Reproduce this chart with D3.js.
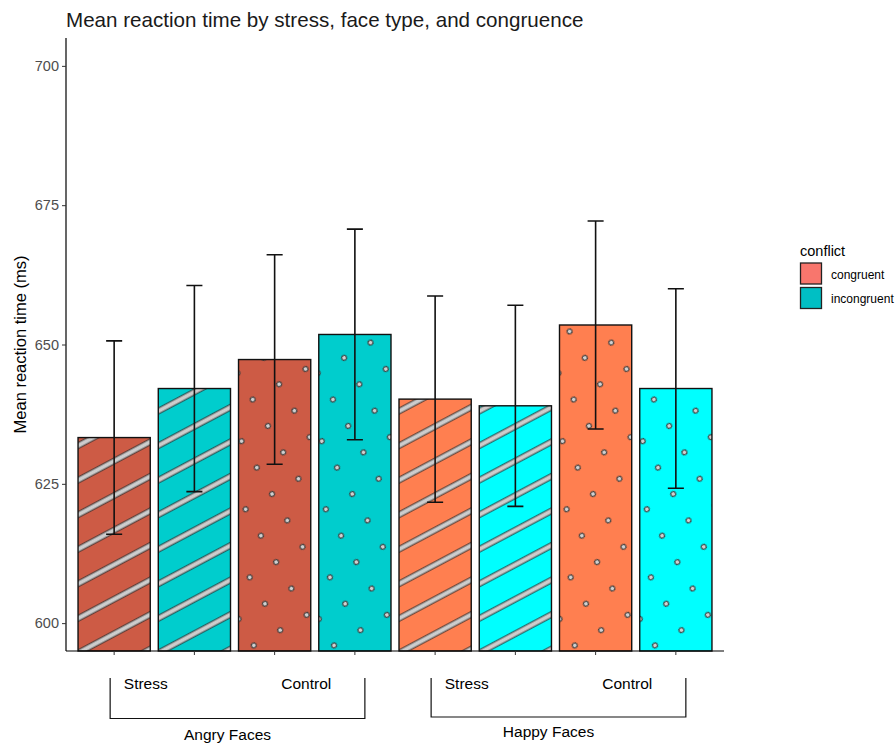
<!DOCTYPE html>
<html>
<head>
<meta charset="utf-8">
<script src="https://cdn.jsdelivr.net/npm/d3@7"></script>
<style>
  html, body { margin: 0; padding: 0; background: #fff; }
  svg { display: block; font-family: "Liberation Sans", Arial, sans-serif; }
</style>
</head>
<body>
<svg id="chart" width="896" height="745"></svg>
<script>
// Reaction-time means and error half-widths, one bar per face × stress × conflict cell
const faceTypes = ["Angry Faces", "Happy Faces"];
const stressConditions = ["Stress", "Control"];
const conflictLevels = ["congruent", "incongruent"];
const meanRT = [633.3, 642.1, 647.3, 651.8, 640.2, 639.0, 653.5, 642.1];
const errorHalf = [17.35, 18.5, 18.8, 18.9, 18.5, 18.05, 18.65, 17.9];
const barColors = ["#CD5B45", "#00CDCD", "#CD5B45", "#00CDCD", "#FF7F50", "#00FFFF", "#FF7F50", "#00FFFF"];
const legendColors = ["#F8766D", "#00BFC4"];
const yTicks = [600, 625, 650, 675, 700];

// Build the eight cells in drawing order
const cells = [];
faceTypes.forEach((face, fi) => {
  stressConditions.forEach((stress, si) => {
    conflictLevels.forEach((conflict, ci) => {
      const i = cells.length;
      cells.push({
        id: `${face}|${stress}|${conflict}`,
        face, stress, conflict,
        pattern: stress === "Stress" ? "stripe" : "circle",
        mean: meanRT[i],
        lo: meanRT[i] - errorHalf[i],
        hi: meanRT[i] + errorHalf[i],
        fill: barColors[i]
      });
    });
  });
});

const svg = d3.select("#chart");
const panel = { left: 66, right: 724, top: 38, bottom: 651 };

const x = d3.scaleBand()
  .domain(cells.map(d => d.id))
  .range([panel.left, panel.right])
  .paddingInner(0.1)
  .paddingOuter(0.15);

const y = d3.scaleLinear()
  .domain([595, 705])
  .range([panel.bottom, panel.top]);

// Fill patterns: diagonal stripes for Stress, dot grid for Control
const spacing = 30.5;
const defs = svg.append("defs");
const pats = defs.selectAll("pattern")
  .data(cells)
  .join("pattern")
  .attr("id", (d, i) => `pat${i}`)
  .attr("patternUnits", "userSpaceOnUse")
  .attr("width", spacing)
  .attr("height", spacing)
  .attr("patternTransform", d => `translate(${x(d.id) + x.bandwidth() / 2},${panel.bottom}) rotate(${d.pattern === "stripe" ? -28 : -30})`);

const stripeW = 5.2;
pats.filter(d => d.pattern === "stripe").each(function () {
  const p = d3.select(this);
  const y0 = (spacing - stripeW) / 2;
  p.append("rect")
    .attr("x", 0).attr("y", y0)
    .attr("width", spacing).attr("height", stripeW)
    .attr("fill", "#cccccc");
  [y0, y0 + stripeW].forEach(yy => {
    p.append("line")
      .attr("x1", 0).attr("x2", spacing)
      .attr("y1", yy).attr("y2", yy)
      .attr("stroke", "#222").attr("stroke-width", 0.9);
  });
});
pats.filter(d => d.pattern === "circle").append("circle")
  .attr("cx", spacing / 2).attr("cy", spacing / 2)
  .attr("r", 2.5)
  .attr("fill", "#d0d0d0")
  .attr("stroke", "#333")
  .attr("stroke-width", 1);

// Title
svg.append("text")
  .attr("x", 66).attr("y", 26.5)
  .attr("font-size", 20.6)
  .attr("fill", "#1a1a1a")
  .text("Mean reaction time by stress, face type, and congruence");

// Bars
const bars = svg.append("g").attr("class", "bars");
bars.selectAll("rect.base")
  .data(cells)
  .join("rect")
  .attr("class", "base")
  .attr("x", d => x(d.id))
  .attr("y", d => y(d.mean))
  .attr("width", x.bandwidth())
  .attr("height", d => y(595) - y(d.mean))
  .attr("fill", d => d.fill);
bars.selectAll("rect.pat")
  .data(cells)
  .join("rect")
  .attr("class", "pat")
  .attr("x", d => x(d.id))
  .attr("y", d => y(d.mean))
  .attr("width", x.bandwidth())
  .attr("height", d => y(595) - y(d.mean))
  .attr("fill", (d, i) => `url(#pat${i})`);
bars.selectAll("rect.outline")
  .data(cells)
  .join("rect")
  .attr("class", "outline")
  .attr("x", d => x(d.id))
  .attr("y", d => y(d.mean))
  .attr("width", x.bandwidth())
  .attr("height", d => y(595) - y(d.mean))
  .attr("fill", "none")
  .attr("stroke", "#111")
  .attr("stroke-width", 1.4);

// Error bars
const capW = x.step() * 0.2;
const err = svg.append("g").attr("class", "errors")
  .attr("stroke", "#111").attr("stroke-width", 1.6).attr("fill", "none");
err.selectAll("path")
  .data(cells)
  .join("path")
  .attr("d", d => {
    const cx = x(d.id) + x.bandwidth() / 2;
    return `M${cx - capW / 2},${y(d.hi)}H${cx + capW / 2}` +
           `M${cx},${y(d.hi)}V${y(d.lo)}` +
           `M${cx - capW / 2},${y(d.lo)}H${cx + capW / 2}`;
  });

// Axes
const yAxis = svg.append("g")
  .attr("transform", `translate(${panel.left},0)`)
  .call(d3.axisLeft(y).tickValues(yTicks).tickSize(4).tickPadding(3).tickFormat(d3.format("d")));
yAxis.select(".domain").attr("d", `M0,${panel.top}V${panel.bottom}`).attr("stroke", "#000").attr("stroke-width", 1.2);
yAxis.selectAll(".tick line").attr("stroke", "#333");
yAxis.selectAll(".tick text")
  .attr("font-size", 14.5)
  .attr("font-family", "\"Liberation Sans\", Arial, sans-serif")
  .attr("fill", "#4d4d4d");

const xAxis = svg.append("g")
  .attr("transform", `translate(0,${panel.bottom})`)
  .call(d3.axisBottom(x).tickSize(4).tickFormat(""));
xAxis.select(".domain").attr("d", `M${panel.left},0H${panel.right}`).attr("stroke", "#000").attr("stroke-width", 1.2);
xAxis.selectAll(".tick line").attr("stroke", "#333");

// Y axis title
svg.append("text")
  .attr("transform", `translate(26,${(panel.top + panel.bottom) / 2}) rotate(-90)`)
  .attr("text-anchor", "middle")
  .attr("font-size", 16.5)
  .attr("fill", "#000")
  .text("Mean reaction time (ms)");

// Grouping annotations beneath the axis
const ann = svg.append("g").attr("class", "groups");
faceTypes.forEach((face, fi) => {
  const group = cells.filter(d => d.face === face);
  const first = x(group[0].id) + x.bandwidth() / 2;
  const last = x(group[group.length - 1].id) + x.bandwidth() / 2;
  const left = first - 4;
  const right = last + 10;
  const bottomY = 718.5 - fi * 1.5;
  ann.append("path")
    .attr("d", `M${left},678V${bottomY}H${right}V678`)
    .attr("fill", "none")
    .attr("stroke", "#111")
    .attr("stroke-width", 1.2);
  stressConditions.forEach(stress => {
    const pair = group.filter(d => d.stress === stress);
    const mid = (x(pair[0].id) + x(pair[1].id) + x.bandwidth()) / 2;
    ann.append("text")
      .attr("x", mid - 8.5)
      .attr("y", 689)
      .attr("text-anchor", "middle")
      .attr("font-size", 15.5)
      .attr("fill", "#000")
      .text(stress);
  });
  ann.append("text")
    .attr("x", (left + right) / 2 - 10)
    .attr("y", 740 - fi * 3)
    .attr("text-anchor", "middle")
    .attr("font-size", 15.5)
    .attr("fill", "#000")
    .text(face);
});

// Legend
const legend = svg.append("g").attr("transform", "translate(800,0)");
legend.append("text")
  .attr("x", 0).attr("y", 255.5)
  .attr("font-size", 14.5)
  .attr("fill", "#000")
  .text("conflict");
conflictLevels.forEach((lvl, i) => {
  legend.append("rect")
    .attr("x", 0.5).attr("y", 263 + i * 24.5)
    .attr("width", 21).attr("height", 21)
    .attr("fill", legendColors[i])
    .attr("stroke", "#222")
    .attr("stroke-width", 1.3);
  legend.append("text")
    .attr("x", 31).attr("y", 278.5 + i * 24.5)
    .attr("font-size", 12)
    .attr("fill", "#000")
    .text(lvl);
});
</script>
</body>
</html>
